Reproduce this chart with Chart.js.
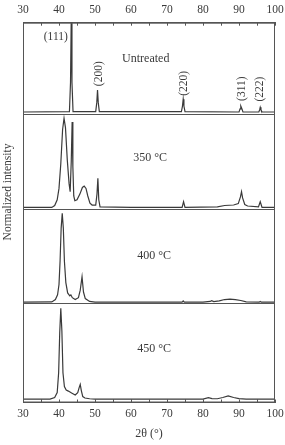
<!DOCTYPE html>
<html>
<head>
<meta charset="utf-8">
<script src="https://cdn.jsdelivr.net/npm/chart.js@4.4.1/dist/chart.umd.min.js"></script>
<style>
html, body { margin: 0; padding: 0; background: #fff; }
</style>
</head>
<body>
<canvas id="myChart" width="285" height="445"></canvas>
<script>
// x axis (2 theta, degrees)
const tickLabels = [30, 40, 50, 60, 70, 80, 90, 100];

// each trace is normalized inside its own panel (0 = panel bottom, 1 = panel top)
const untreatedX = [30, 42.9, 43.2, 43.4, 43.6, 43.9, 50.2, 50.5, 50.7, 50.9, 51.2, 74.0, 74.3, 74.5, 74.7, 75.0, 90.0, 90.3, 90.5, 90.8, 91.1, 95.5, 95.75, 95.9, 96.1, 96.4, 100];
const untreatedY = [0.025, 0.03, 0.35, 1.05, 0.35, 0.03, 0.03, 0.13, 0.265, 0.13, 0.03, 0.03, 0.09, 0.165, 0.09, 0.03, 0.025, 0.06, 0.09, 0.06, 0.025, 0.025, 0.05, 0.076, 0.05, 0.025, 0.025];

const t350X = [30, 38.0, 38.8, 39.5, 40.0, 40.5, 41.0, 41.4, 41.8, 42.3, 42.8, 43.1, 43.4, 43.65, 43.85, 44.1, 44.4, 45.0, 45.8, 46.5, 47.0, 47.5, 48.0, 48.6, 49.2, 50.2, 50.55, 50.8, 51.05, 51.4, 60, 74.2, 74.6, 75.0, 84.0, 86.0, 88.5, 89.8, 90.4, 90.7, 91.0, 91.6, 92.4, 95.4, 95.9, 96.4, 100];
const t350Y = [0.02, 0.02, 0.04, 0.1, 0.22, 0.48, 0.84, 0.958, 0.86, 0.52, 0.27, 0.185, 0.5, 0.92, 0.45, 0.14, 0.09, 0.1, 0.16, 0.23, 0.245, 0.22, 0.14, 0.065, 0.045, 0.045, 0.16, 0.326, 0.1, 0.025, 0.02, 0.02, 0.08, 0.02, 0.025, 0.04, 0.045, 0.06, 0.13, 0.185, 0.12, 0.05, 0.035, 0.025, 0.08, 0.02, 0.02];

const t400X = [30, 38.0, 39.0, 39.6, 40.0, 40.3, 40.6, 40.9, 41.2, 41.5, 41.9, 42.4, 43.0, 43.3, 43.7, 44.5, 45.4, 45.9, 46.4, 46.8, 47.3, 48.5, 50, 74.2, 74.5, 74.8, 80, 82.0, 82.4, 83.0, 84.5, 86.0, 87.5, 89.0, 90.5, 92, 95.6, 95.9, 96.2, 100];
const t400Y = [0.012, 0.015, 0.04, 0.09, 0.2, 0.45, 0.8, 0.957, 0.8, 0.45, 0.22, 0.11, 0.08, 0.09, 0.06, 0.04, 0.06, 0.14, 0.283, 0.12, 0.05, 0.02, 0.012, 0.012, 0.025, 0.012, 0.012, 0.02, 0.028, 0.018, 0.025, 0.04, 0.045, 0.04, 0.03, 0.015, 0.012, 0.02, 0.012, 0.012];

const t450X = [30, 37.5, 38.8, 39.5, 39.9, 40.2, 40.5, 40.8, 41.1, 41.5, 42.0, 42.6, 43.5, 44.5, 45.2, 45.6, 45.9, 46.2, 46.6, 47.2, 48.5, 50, 80, 81.5, 82.5, 84.0, 85.5, 87.0, 88.5, 90.0, 92, 100];
const t450Y = [0.035, 0.035, 0.05, 0.1, 0.3, 0.7, 0.95, 0.72, 0.3, 0.16, 0.125, 0.115, 0.095, 0.076, 0.1, 0.15, 0.183, 0.12, 0.06, 0.045, 0.038, 0.035, 0.035, 0.048, 0.04, 0.038, 0.05, 0.066, 0.05, 0.04, 0.035, 0.035];

// panel names and where they sit (2 theta, fraction of panel)
const panelNames = ['Untreated', '350 °C', '400 °C', '450 °C'];
const panelNameX = [64.1, 65.3, 66.4, 66.4];
const panelNameY = [0.6, 0.54, 0.5, 0.54];

// reflections on the untreated trace
const hklLabels = ['(111)', '(200)', '(220)', '(311)', '(222)'];
const hklX = [39.1, 51.1, 74.8, 90.7, 95.9];
const hklY = [0.84, 0.443, 0.338, 0.28, 0.276];
const hklVertical = [false, true, true, true, true];

const panelAxes = ['yA', 'yB', 'yC', 'yD'];
const ink = '#3a3a3a';
const serif = "'Liberation Serif', 'DejaVu Serif', serif";

function pts(xs, ys) {
    return xs.map((x, i) => ({x: x, y: ys[i]}));
}

function panelAxis(weight, order) {
    return {
        type: 'linear',
        position: 'left',
        stack: 'panels',
        stackWeight: weight,
        weight: order,
        min: 0,
        max: 1,
        ticks: {display: false, stepSize: 1},
        grid: {color: '#555', lineWidth: 1, drawTicks: false},
        border: {display: false},
        afterFit: (s) => { s.width = 23; }
    };
}

const textPlugin = {
    id: 'textPlugin',
    afterDraw(chart) {
        const ctx = chart.ctx;
        const a = chart.chartArea;
        const xs = chart.scales.x;
        ctx.save();
        // frame
        ctx.strokeStyle = '#555';
        ctx.lineWidth = 1;
        ctx.strokeRect(a.left + 0.5, a.top + 0.5, a.right - a.left - 1, a.bottom - a.top - 1);

        ctx.fillStyle = ink;
        ctx.textAlign = 'center';
        ctx.textBaseline = 'middle';
        ctx.font = '12px ' + serif;
        panelNames.forEach((n, i) => {
            const ys = chart.scales[panelAxes[i]];
            ctx.fillText(n, xs.getPixelForValue(panelNameX[i]), ys.getPixelForValue(panelNameY[i]));
        });

        ctx.font = '11.5px ' + serif;
        const ys0 = chart.scales.yA;
        hklLabels.forEach((t, i) => {
            const px = xs.getPixelForValue(hklX[i]);
            const py = ys0.getPixelForValue(hklY[i]);
            ctx.save();
            ctx.translate(px, py);
            if (hklVertical[i]) ctx.rotate(-Math.PI / 2);
            ctx.fillText(t, 0, 0);
            ctx.restore();
        });

        // y title
        ctx.font = '11.5px ' + serif;
        ctx.translate(8, 192);
        ctx.rotate(-Math.PI / 2);
        ctx.fillText('Normalized intensity', 0, 0);
        ctx.restore();
    }
};

const xTicks = {
    stepSize: 5,
    color: ink,
    font: {family: serif, size: 11.5},
    maxRotation: 0,
    autoSkip: false,
    callback: (v) => tickLabels.includes(v) ? v : ''
};

// keep the end labels from pushing the plot area inwards
function fixX(h) {
    return (s) => {
        s.height = h;
        s.paddingLeft = 0;
        s.paddingRight = 0;
    };
}

var ctx = document.getElementById('myChart').getContext('2d');
var myChart = new Chart(ctx, {
    type: 'line',
    data: {
        datasets: [
            {label: 'Untreated', data: pts(untreatedX, untreatedY), yAxisID: 'yA'},
            {label: '350 °C', data: pts(t350X, t350Y), yAxisID: 'yB'},
            {label: '400 °C', data: pts(t400X, t400Y), yAxisID: 'yC'},
            {label: '450 °C', data: pts(t450X, t450Y), yAxisID: 'yD'}
        ].map(d => Object.assign(d, {
            borderColor: ink,
            borderWidth: 1.2,
            pointRadius: 0,
            tension: 0,
            fill: false
        }))
    },
    options: {
        responsive: false,
        animation: false,
        devicePixelRatio: 1,
        layout: {padding: {left: 0, right: 10, top: 0, bottom: 0}},
        plugins: {legend: {display: false}, tooltip: {enabled: false}},
        scales: {
            x: {
                type: 'linear',
                position: 'bottom',
                min: 30,
                max: 100,
                ticks: Object.assign({}, xTicks, {padding: 8}),
                grid: {drawOnChartArea: false, tickLength: -3, color: '#555'},
                border: {color: '#555'},
                title: {display: true, text: '2θ (°)', color: ink, font: {family: serif, size: 12}, padding: {top: 0, bottom: 4}},
                afterFit: fixX(42.5)
            },
            x2: {
                type: 'linear',
                position: 'top',
                min: 30,
                max: 100,
                ticks: Object.assign({}, xTicks, {padding: 9}),
                grid: {drawOnChartArea: false, tickLength: -3, color: '#555'},
                border: {color: '#555'},
                afterFit: fixX(22.7)
            },
            yA: panelAxis(91.6, 4),
            yB: panelAxis(95, 3),
            yC: panelAxis(94, 2),
            yD: panelAxis(99.2, 1)
        }
    },
    plugins: [textPlugin]
});
</script>
</body>
</html>
